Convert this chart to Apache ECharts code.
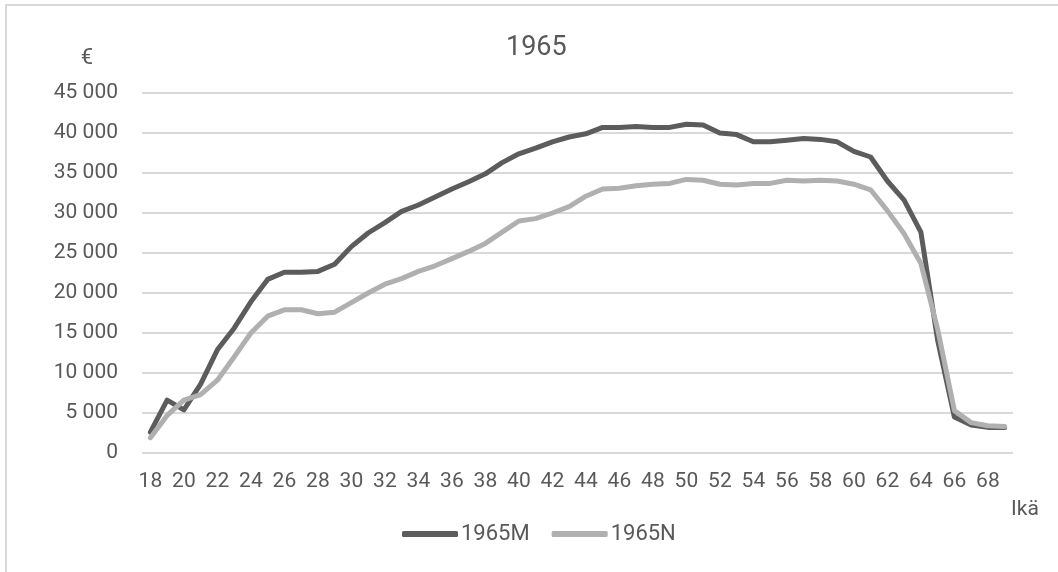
<!DOCTYPE html>
<html>
<head>
<meta charset="utf-8">
<script src="https://cdn.jsdelivr.net/npm/echarts@6/dist/echarts.min.js"></script>
<style>
html,body{margin:0;padding:0;background:#fff;}
#c{width:1058px;height:572px;}
</style>
</head>
<body>
<div id="c"></div>
<script>
var ages = [];
for (var a = 18; a <= 69; a++) ages.push(String(a));
var seriesNames = ['1965M', '1965N'];
var valuesM = [2600,6600,5400,8600,12900,15600,18900,21700,22600,22600,22700,23600,25800,27500,28800,30200,31000,32000,33000,33900,34900,36300,37400,38100,38900,39500,39900,40700,40700,40800,40700,40700,41100,41000,40000,39800,38900,38900,39100,39300,39200,38900,37700,37000,34000,31600,27600,14100,4500,3500,3200,3200];
var valuesN = [1900,4700,6600,7300,9100,12000,15000,17100,17900,17900,17400,17600,18800,20000,21100,21800,22700,23400,24300,25200,26200,27600,29000,29300,30000,30800,32100,33000,33100,33400,33600,33700,34200,34100,33600,33500,33700,33700,34100,34000,34100,34000,33600,32900,30300,27400,23700,15500,5300,3800,3400,3300];
var titleText = '1965';
var yName = '€';
var xName = 'Ikä';

var FONT = "Roboto, 'Liberation Sans', sans-serif";
var TXT = '#595959';
var chart = echarts.init(document.getElementById('c'));
function fmt(v){ return String(v).replace(/\B(?=(\d{3})+(?!\d))/g, ' '); }
chart.setOption({
  animation: false,
  backgroundColor: '#fff',
  textStyle: {fontFamily: FONT},
  title: {text: titleText, left: 501, top: 30, textStyle: {fontFamily: FONT, fontSize: 27, fontWeight: 'normal', color: TXT}},
  legend: {
    left: 397, top: 518, itemWidth: 56, itemHeight: 6, itemGap: 22,
    icon: 'roundRect',
    textStyle: {fontFamily: FONT, fontSize: 22, color: TXT, padding: [0,0,0,-2]},
    data: seriesNames
  },
  graphic: [
    {type: 'rect', shape: {x: 6, y: 5, width: 1200, height: 700}, style: {fill: 'none', stroke: '#d9d9d9', lineWidth: 2}, silent: true},
    {type: 'text', x: 87, y: 58, style: {text: yName, font: "22px " + FONT, fill: TXT, align: 'center', verticalAlign: 'middle'}},
    {type: 'text', x: 1025, y: 510, style: {text: xName, font: "21px " + FONT, fill: TXT, align: 'center', verticalAlign: 'middle'}}
  ],
  grid: {left: 142, right: 45, top: 93, bottom: 119, containLabel: false},
  xAxis: {
    type: 'category', data: ages, boundaryGap: true,
    axisLine: {show: false}, axisTick: {show: false},
    axisLabel: {interval: 1, margin: 18, fontFamily: FONT, fontSize: 21, color: TXT}
  },
  yAxis: {
    type: 'value', min: 0, max: 45000, interval: 5000,
    axisLine: {show: false}, axisTick: {show: false},
    axisLabel: {margin: 24, fontFamily: FONT, fontSize: 21, color: TXT, formatter: fmt},
    splitLine: {lineStyle: {color: '#d9d9d9', width: 2}}
  },
  series: [
    {name: seriesNames[0], type: 'line', data: valuesM, symbol: 'none', lineStyle: {color: '#5c5c5c', width: 5, cap: 'round', join: 'round'}, itemStyle: {color: '#5c5c5c'}},
    {name: seriesNames[1], type: 'line', data: valuesN, symbol: 'none', lineStyle: {color: '#b0b0b0', width: 5, cap: 'round', join: 'round'}, itemStyle: {color: '#b0b0b0'}}
  ]
});
</script>
</body>
</html>
